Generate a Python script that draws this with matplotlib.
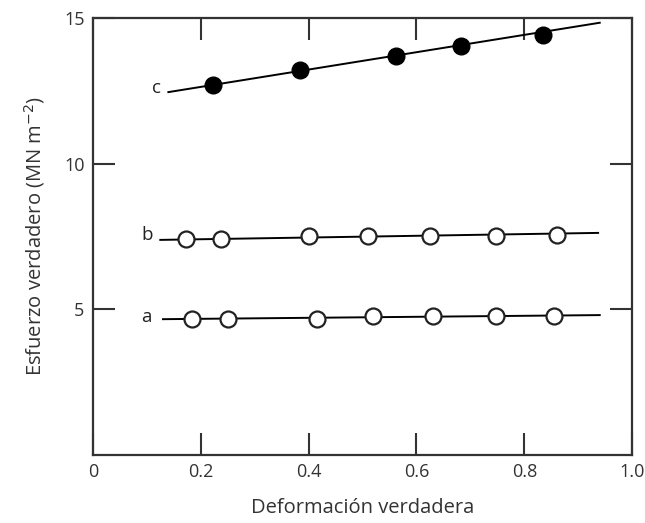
#Deformacion verdadera vs esfuerzo verdadero, tres series a, b, c
import matplotlib.pyplot as plt

#DATA
x_a = [0.183, 0.25, 0.415, 0.52, 0.63, 0.748, 0.855]
y_a = [4.68, 4.68, 4.68, 4.76, 4.77, 4.77, 4.78]
x_b = [0.172, 0.238, 0.40, 0.51, 0.625, 0.748, 0.86]
y_b = [7.40, 7.40, 7.50, 7.50, 7.51, 7.53, 7.56]
x_c = [0.222, 0.385, 0.562, 0.683, 0.834]
y_c = [12.70, 13.20, 13.70, 14.03, 14.42]

#fitted lines (end points)
line_a_x = [0.13, 0.94]
line_a_y = [4.66, 4.80]
line_b_x = [0.125, 0.937]
line_b_y = [7.38, 7.62]
line_c_x = [0.14, 0.94]
line_c_y = [12.45, 14.83]

labels = ['a', 'b', 'c']
label_x = [0.10, 0.10, 0.118]
label_y = [4.72, 7.55, 12.6]

xticks = [0, 0.2, 0.4, 0.6, 0.8, 1.0]
xticklabels = ['0', '0.2', '0.4', '0.6', '0.8', '1.0']
yticks = [5, 10, 15]

plt.rcParams['font.family'] = ['Open Sans', 'DejaVu Sans']

fig = plt.figure(figsize=(6.45, 5.23), dpi=100)
ax = fig.add_axes([0.144, 0.13, 0.836, 0.836])

lc = '#222222'
ax.plot(line_a_x, line_a_y, color='black', lw=1.4, zorder=2)
ax.plot(line_b_x, line_b_y, color='black', lw=1.4, zorder=2)
ax.plot(line_c_x, line_c_y, color='black', lw=1.4, zorder=2)

ax.plot(x_a, y_a, 'o', ms=11.5, mfc='white', mec=lc, mew=1.6, zorder=3)
ax.plot(x_b, y_b, 'o', ms=11.5, mfc='white', mec=lc, mew=1.6, zorder=3)
ax.plot(x_c, y_c, 'o', ms=12, mfc='black', mec='black', zorder=3)

for lab, lx, ly in zip(labels, label_x, label_y):
    ax.text(lx, ly, lab, fontsize=13.5, color='#222222', ha='center', va='center')

ax.set_xlim(0, 1.0)
ax.set_ylim(0, 15)
ax.set_xticks(xticks)
ax.set_xticklabels(xticklabels)
ax.set_yticks(yticks)
ax.tick_params(direction='in', length=16, width=1.5, top=True, right=True,
               labelsize=13, labelcolor='#333333', color='#333333', pad=6)
for s in ax.spines.values():
    s.set_linewidth(1.6)
    s.set_color('#333333')

ax.set_xlabel('Deformación verdadera', fontsize=14.5, color='#333333', labelpad=12)
ax.set_ylabel('Esfuerzo verdadero (MN m$^{-2}$)', fontsize=14.5, color='#333333', labelpad=12)

plt.savefig('out.png', dpi=100)
